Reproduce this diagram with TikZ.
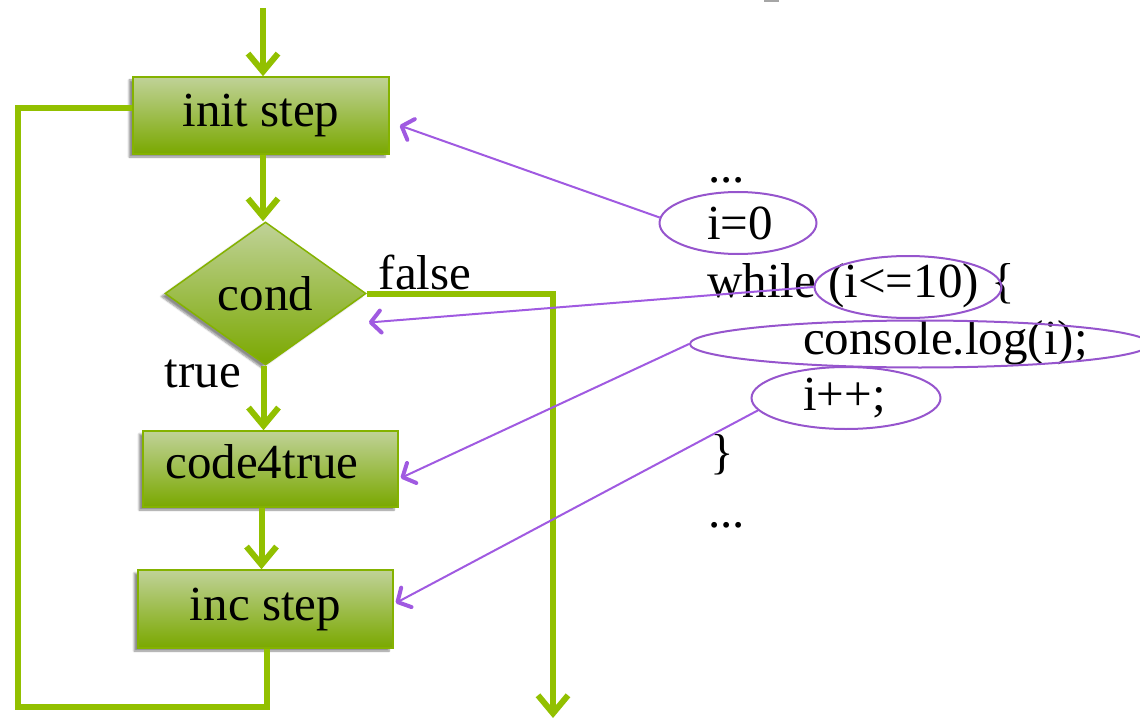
\documentclass[tikz,border=0pt]{standalone}
\usepackage{fontspec}
\setmainfont{Liberation Serif}
\usetikzlibrary{arrows.meta,shapes.geometric,shadows.blur,calc}
\definecolor{flowgreen}{RGB}{146,192,0}
\definecolor{boxedge}{RGB}{132,178,0}
\definecolor{boxtop}{RGB}{192,210,152}
\definecolor{boxbot}{RGB}{122,168,0}
\definecolor{ptrpurple}{RGB}{160,90,225}
\definecolor{ellpurple}{RGB}{150,85,205}
\begin{document}
\begin{tikzpicture}[x=1pt,y=-1pt,
  every node/.style={font=\fontsize{49}{56}\selectfont},
  box/.style={draw=boxedge, line width=1.5pt, top color=boxtop, bottom color=boxbot,
    inner sep=0pt, rectangle,
    blur shadow={shadow xshift=-4pt,shadow yshift=-3pt,shadow opacity=45,shadow blur steps=6}},
  decision/.style={box, diamond},
  flow/.style={draw=flowgreen, line width=6pt},
  flowarrow/.style={flow, -{Straight Barb[length=18pt,width=30pt]}},
  ptr/.style={draw=ptrpurple, line width=2pt, -{Straight Barb[length=10pt,width=22pt,line width=4pt,round]}},
  ring/.style={draw=ellpurple, line width=2pt, ellipse, inner sep=0pt},
  code/.style={anchor=base west, inner sep=0pt}
]
\useasboundingbox (0,0) rectangle (1140,722);
\fill[gray!70] (764,0) rectangle (779,2);

% flowchart nodes
\node[box, minimum width=256pt, minimum height=77pt] (init) at (261,115.5) {init step};
\node[decision, minimum width=201pt, minimum height=143pt] (cond) at (265.5,293.5) {cond};
\node[box, minimum width=255pt, minimum height=76pt] (code) at (270.5,469) {};
\node[inner sep=0pt] (codetxt) at (262,462) {code4true};
\node[box, minimum width=255pt, minimum height=78pt] (inc) at (265.5,609) {inc step};

\node[inner sep=0pt] (lfalse) at (425,272) {false};
\node[inner sep=0pt] (ltrue) at (203,374) {true};

\coordinate (start) at (263,8);
\coordinate (exit) at (553,718);
\coordinate (loopcorner) at (18,707);

% flow connectors
\draw[flowarrow] (start) -- (start |- init.north);
\draw[flowarrow] ([xshift=2pt]init.south) -- ([xshift=2pt]init.south |- cond.north);
\draw[flowarrow] ([xshift=-2pt]cond.south) -- ([xshift=-2pt]cond.south |- code.north);
\draw[flowarrow] ([xshift=-9pt]code.south) -- ([xshift=-9pt]code.south |- inc.north);
\draw[flow] ([xshift=1.5pt]inc.south) |- (loopcorner) |- ([yshift=7.5pt]init.west);
\draw[flowarrow] (cond.east) -| (exit);

% code text
\node[code] (t0) at (708,183) {...};
\node[code] (t1) at (707,239) {i=0};
\node[code] (t2) at (707,297) {while (i<=10) \{};
\node[code] (t3) at (803,354) {console.log(i);};
\node[code] (t4) at (803,410) {i++;};
\node[code] (t5) at (710,468) {\}};
\node[code] (t6) at (708,527) {...};

% ellipses
\node[ring, minimum width=157pt, minimum height=62pt] (e1) at (738,223) {};
\node[ring, minimum width=187pt, minimum height=62pt] (e2) at (908,287) {};
\node[ring, minimum width=460pt, minimum height=47pt] (e3) at (920,344) {};
\node[ring, minimum width=189pt, minimum height=62pt] (e4) at (846,398) {};

% pointers
\draw[ptr] (e1.176) -- ([xshift=10pt,yshift=-10pt]init.east);
\draw[ptr] (e2.west) -- ([xshift=2pt,yshift=-29pt]cond.east);
\draw[ptr] (e3.west) -- ([xshift=2pt,yshift=-9pt]code.east);
\draw[ptr] (e4.188) -- ([xshift=2pt,yshift=6pt]inc.east);
\end{tikzpicture}
\end{document}
